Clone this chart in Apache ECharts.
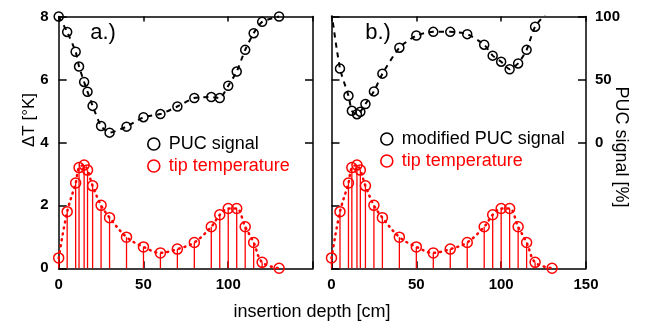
<!DOCTYPE html>
<html>
<head>
<meta charset="utf-8">
<script src="https://cdn.jsdelivr.net/npm/echarts@6/dist/echarts.min.js"></script>
<style>
  html, body { margin: 0; padding: 0; background: #fff; }
  #chart { width: 647px; height: 324px; }
</style>
</head>
<body>
<div id="chart"></div>
<script>
// insertion depth [cm] of every measurement
const depth = [0, 5, 10, 12, 15, 17, 20, 25, 30, 40, 50, 60, 70, 80, 90, 95, 100, 105, 110, 115, 120, 130];
// tip temperature, delta T [K] (same in both panels)
const tipTemp = [0.33, 1.8, 2.71, 3.2, 3.28, 3.12, 2.62, 2.0, 1.61, 0.99, 0.68, 0.49, 0.61, 0.82, 1.32, 1.7, 1.9, 1.9, 1.32, 0.82, 0.19, 0.0];
// panel a.) PUC signal, drawn on the delta T scale
const pucSignal = [8.0, 7.51, 6.88, 6.41, 5.92, 5.61, 5.16, 4.52, 4.31, 4.5, 4.8, 4.9, 5.14, 5.41, 5.44, 5.41, 5.8, 6.25, 6.94, 7.47, 7.83, 8.0];
// panel b.) modified PUC signal [%]
const modPucSignal = [103, 58.6, 37, 25.1, 22.4, 24.3, 30.5, 40.5, 54.6, 75.2, 84.9, 87.8, 87.8, 86, 77.6, 68.9, 64.1, 58.1, 62.7, 73.5, 91.9, 108];

const xTicks = [0, 50, 100, 150];
const pucTicks = [0, 50, 100];

const FONT = '"Liberation Sans", Arial, Helvetica, sans-serif';
const RED = '#ff0000';
const BLACK = '#000000';

const chart = echarts.init(document.getElementById('chart'));

const pairs = ys => depth.map((d, i) => [d, ys[i]]);

const frameLine = { show: true, onZero: false, lineStyle: { color: BLACK, width: 1.5 } };
const tickStyle = { color: BLACK, width: 1.5 };
const labelFont = { color: BLACK, fontSize: 15, fontWeight: 'bold', fontFamily: FONT };

function depthAxis(gridIndex, position, labelValues) {
  return {
    type: 'value',
    gridIndex,
    position,
    min: xTicks[0],
    max: xTicks[xTicks.length - 1],
    interval: 50,
    axisLine: frameLine,
    axisTick: { show: true, inside: true, length: position === 'bottom' ? 7 : 5, lineStyle: tickStyle },
    axisLabel: labelValues
      ? { show: true, margin: 9, customValues: labelValues, ...labelFont }
      : { show: false },
    splitLine: { show: false },
  };
}

function tempAxis(gridIndex, position, showLabels, tickValues) {
  return {
    type: 'value',
    gridIndex,
    position,
    min: 0,
    max: 8,
    interval: 2,
    axisLine: frameLine,
    axisTick: { show: true, inside: true, length: 8, lineStyle: tickStyle, customValues: tickValues },
    axisLabel: showLabels ? { show: true, margin: 10, ...labelFont } : { show: false },
    splitLine: { show: false },
  };
}

const hollow = (color, width) => ({ color: 'transparent', borderColor: color, borderWidth: width });

function stemSeries(xi, yi) {
  return {
    type: 'bar',
    name: 'stems',
    xAxisIndex: xi,
    yAxisIndex: yi,
    data: pairs(tipTemp),
    barWidth: 1.3,
    itemStyle: { color: RED },
    silent: true,
    z: 1,
  };
}

function tempSeries(xi, yi) {
  return {
    type: 'line',
    name: 'tip temperature',
    xAxisIndex: xi,
    yAxisIndex: yi,
    data: pairs(tipTemp),
    smooth: 0.35,
    clip: false,
    symbol: 'circle',
    symbolSize: 10,
    itemStyle: hollow(RED, 1.5),
    lineStyle: { color: RED, width: 2.5, type: [1, 5], cap: 'round' },
    z: 2,
  };
}

function legendFor(left, top, name, color) {
  return {
    left,
    top,
    orient: 'vertical',
    icon: 'circle',
    itemWidth: 20,
    itemHeight: 12,
    itemGap: 4,
    selectedMode: false,
    textStyle: { fontSize: 18, lineHeight: 18, fontFamily: FONT },
    data: [
      { name, icon: 'circle', itemStyle: hollow(BLACK, 1.6), textStyle: { color: BLACK } },
      { name: 'tip temperature', icon: 'circle', itemStyle: hollow(RED, 1.6), textStyle: { color: RED } },
    ],
  };
}

chart.setOption({
  animation: false,
  backgroundColor: '#fff',
  grid: [
    { left: 58.7, top: 16.5, width: 254.3, height: 251.8, containLabel: false, outerBoundsMode: 'none' },
    { left: 331.5, top: 16.5, width: 254.5, height: 251.8, containLabel: false, outerBoundsMode: 'none' },
  ],
  xAxis: [
    depthAxis(0, 'bottom', [0, 50, 100]),
    depthAxis(0, 'top', null),
    depthAxis(1, 'bottom', xTicks),
    depthAxis(1, 'top', null),
  ],
  yAxis: [
    tempAxis(0, 'left', true),
    tempAxis(0, 'right', false, [4, 6]),
    tempAxis(1, 'left', false),
    {
      type: 'value',
      gridIndex: 1,
      position: 'right',
      min: -100,
      max: 100,
      interval: 50,
      axisLine: frameLine,
      axisTick: { show: true, inside: true, length: 8, lineStyle: tickStyle, customValues: pucTicks },
      axisLabel: { show: true, margin: 9, customValues: pucTicks, ...labelFont },
      splitLine: { show: false },
    },
  ],
  legend: [
    legendFor(142, 130, 'PUC signal'),
    legendFor(375, 125, 'modified PUC signal'),
  ],
  graphic: [
    { type: 'text', x: 103, y: 33, style: { text: 'a.)', align: 'center', verticalAlign: 'middle', fill: BLACK, font: '22px ' + FONT } },
    { type: 'text', x: 378, y: 33, style: { text: 'b.)', align: 'center', verticalAlign: 'middle', fill: BLACK, font: '22px ' + FONT } },
    { type: 'text', x: 29, y: 120, rotation: Math.PI / 2, style: { text: 'ΔT [°K]', align: 'center', verticalAlign: 'middle', fill: BLACK, font: '17px ' + FONT } },
    { type: 'text', x: 621, y: 147, rotation: -Math.PI / 2, style: { text: 'PUC signal [%]', align: 'center', verticalAlign: 'middle', fill: BLACK, font: '18px ' + FONT } },
    { type: 'text', x: 312, y: 312, style: { text: 'insertion depth [cm]', align: 'center', verticalAlign: 'middle', fill: BLACK, font: '18px ' + FONT } },
  ],
  series: [
    stemSeries(0, 0),
    tempSeries(0, 0),
    {
      type: 'line',
      name: 'PUC signal',
      xAxisIndex: 0,
      yAxisIndex: 0,
      data: pairs(pucSignal),
      smooth: 0.2,
      clip: false,
      symbol: 'circle',
      symbolSize: 9,
      itemStyle: hollow(BLACK, 1.5),
      lineStyle: { color: BLACK, width: 2, type: [5, 5] },
      z: 3,
    },
    stemSeries(2, 2),
    tempSeries(2, 2),
    {
      type: 'line',
      name: 'modified PUC signal',
      xAxisIndex: 2,
      yAxisIndex: 3,
      data: pairs(modPucSignal).map(p => (p[1] > 100 ? { value: p, symbol: 'none' } : p)),
      smooth: 0.2,
      clip: true,
      symbol: 'circle',
      symbolSize: 9,
      itemStyle: hollow(BLACK, 1.5),
      lineStyle: { color: BLACK, width: 2, type: [5, 5] },
      z: 3,
    },
  ],
});
</script>
</body>
</html>
